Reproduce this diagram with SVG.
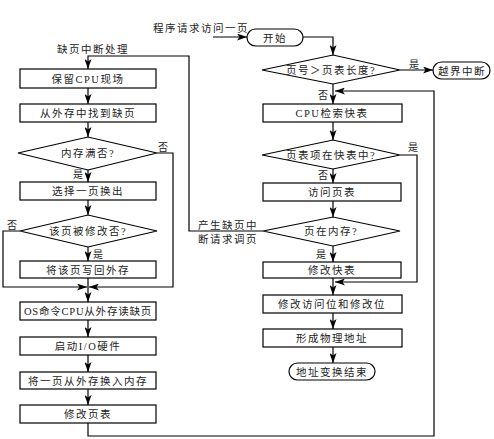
<svg xmlns="http://www.w3.org/2000/svg" width="494" height="439" viewBox="0 0 494 439">
<defs>
<marker id="arr" viewBox="0 0 10 7" refX="10" refY="3.5" markerWidth="10" markerHeight="7" markerUnits="userSpaceOnUse" orient="auto">
<path d="M0,0 L10,3.5 L0,7 L2.5,3.5 z" fill="#000"/>
</marker>
</defs>
<style>
.bx{fill:#fff;stroke:#000;stroke-width:1.2}
.ln{fill:none;stroke:#000;stroke-width:1.2}
.t{font-family:"Liberation Serif","Noto Sans CJK SC",serif;font-size:10.5px;fill:#222;text-anchor:middle;letter-spacing:1.5px}
.s{font-family:"Noto Sans CJK SC",sans-serif;font-size:10px;fill:#222;text-anchor:middle}
</style>
<rect width="494" height="439" fill="#fff"/>
<g id="connectors">
<path class="ln" d="M263,231 H189 V56 H88 V69" marker-end="url(#arr)"/>
<path class="ln" d="M88,88 V104" marker-end="url(#arr)"/>
<path class="ln" d="M88,122 V137" marker-end="url(#arr)"/>
<path class="ln" d="M88,170 V182" marker-end="url(#arr)"/>
<path class="ln" d="M157,153 H173 V287 H89" marker-end="url(#arr)"/>
<path class="ln" d="M88,200 V215" marker-end="url(#arr)"/>
<path class="ln" d="M88,247 V261" marker-end="url(#arr)"/>
<path class="ln" d="M20,231 H3 V287 H87" marker-end="url(#arr)"/>
<path class="ln" d="M88,278 V302" marker-end="url(#arr)"/>
<path class="ln" d="M88,320 V337" marker-end="url(#arr)"/>
<path class="ln" d="M88,355 V372" marker-end="url(#arr)"/>
<path class="ln" d="M88,389 V405" marker-end="url(#arr)"/>
<path class="ln" d="M88,423 V436 H434 V91 H335" marker-end="url(#arr)"/>
<path class="ln" d="M213,37 H247" marker-end="url(#arr)"/>
<path class="ln" d="M303,37 H333 V55" marker-end="url(#arr)"/>
<path class="ln" d="M400,70 H433" marker-end="url(#arr)"/>
<path class="ln" d="M333,84 V104" marker-end="url(#arr)"/>
<path class="ln" d="M333,122 V140" marker-end="url(#arr)"/>
<path class="ln" d="M333,169 V183" marker-end="url(#arr)"/>
<path class="ln" d="M333,201 V217" marker-end="url(#arr)"/>
<path class="ln" d="M333,246 V262" marker-end="url(#arr)"/>
<path class="ln" d="M400,155 H417 V282 H335" marker-end="url(#arr)"/>
<path class="ln" d="M333,278 V295" marker-end="url(#arr)"/>
<path class="ln" d="M333,313 V329" marker-end="url(#arr)"/>
<path class="ln" d="M333,347 V363" marker-end="url(#arr)"/>
</g>
<g id="labels">
<text class="t" x="93" y="53">缺页中断处理</text>
<text class="t" x="201" y="32">程序请求访问一页</text>
<text class="s" x="163" y="151">否</text>
<text class="s" x="78" y="178">是</text>
<text class="s" x="12" y="229">否</text>
<text class="s" x="98" y="258">是</text>
<text class="s" x="414" y="68">是</text>
<text class="s" x="323" y="99">否</text>
<text class="s" x="413" y="151">是</text>
<text class="s" x="323" y="179">否</text>
<text class="s" x="321" y="258">是</text>
<text class="t" x="228" y="229">产生缺页中</text>
<text class="t" x="228" y="243">断请求调页</text>
</g>
<g id="n-save"><rect class="bx" x="20" y="69" width="136" height="19"/><text class="t" x="88" y="82.5">保留CPU现场</text></g>
<g id="n-find"><rect class="bx" x="20" y="104" width="136" height="18"/><text class="t" x="88" y="117">从外存中找到缺页</text></g>
<g id="n-full"><polygon class="bx" points="18,153 88,137 157,153 88,170"/><text class="t" x="88" y="157">内存满否?</text></g>
<g id="n-select"><rect class="bx" x="20" y="182" width="136" height="18"/><text class="t" x="88" y="195">选择一页换出</text></g>
<g id="n-modified"><polygon class="bx" points="20,231 88,215 157,231 88,247"/><text class="t" x="88" y="235">该页被修改否?</text></g>
<g id="n-write"><rect class="bx" x="20" y="261" width="136" height="17"/><text class="t" x="88" y="273.5">将该页写回外存</text></g>
<g id="n-os"><rect class="bx" x="20" y="302" width="136" height="18"/><text class="t" x="88" y="315" style="letter-spacing:0.8px">OS命令CPU从外存读缺页</text></g>
<g id="n-io"><rect class="bx" x="20" y="337" width="136" height="18"/><text class="t" x="88" y="350">启动I/O硬件</text></g>
<g id="n-swapin"><rect class="bx" x="20" y="372" width="136" height="17"/><text class="t" x="88" y="384.5">将一页从外存换入内存</text></g>
<g id="n-updpt"><rect class="bx" x="20" y="405" width="136" height="18"/><text class="t" x="88" y="418">修改页表</text></g>
<g id="n-start"><rect class="bx" x="247" y="29" width="56" height="17" rx="8.5"/><text class="t" x="275" y="41.5">开始</text></g>
<g id="n-len"><polygon class="bx" points="262,70 333,55 400,70 333,84"/><text class="t" x="331" y="74">页号＞页表长度?</text></g>
<g id="n-oob"><rect class="bx" x="433" y="62" width="57" height="17" rx="8.5"/><text class="t" x="462" y="74.5">越界中断</text></g>
<g id="n-tlb"><rect class="bx" x="263" y="104" width="139" height="18"/><text class="t" x="332" y="117">CPU检索快表</text></g>
<g id="n-intlb"><polygon class="bx" points="262,155 333,140 400,155 333,169"/><text class="t" x="331" y="159">页表项在快表中?</text></g>
<g id="n-visit"><rect class="bx" x="263" y="183" width="138" height="18"/><text class="t" x="332" y="196">访问页表</text></g>
<g id="n-inmem"><polygon class="bx" points="263,231 333,217 400,231 333,246"/><text class="t" x="331" y="235">页在内存?</text></g>
<g id="n-updtlb"><rect class="bx" x="263" y="262" width="138" height="16"/><text class="t" x="332" y="274">修改快表</text></g>
<g id="n-bits"><rect class="bx" x="263" y="295" width="139" height="18"/><text class="t" x="332" y="308">修改访问位和修改位</text></g>
<g id="n-phys"><rect class="bx" x="263" y="329" width="139" height="18"/><text class="t" x="332" y="342">形成物理地址</text></g>
<g id="n-end"><rect class="bx" x="289" y="363" width="86" height="17" rx="8.5"/><text class="t" x="332" y="375.5">地址变换结束</text></g>
</svg>
